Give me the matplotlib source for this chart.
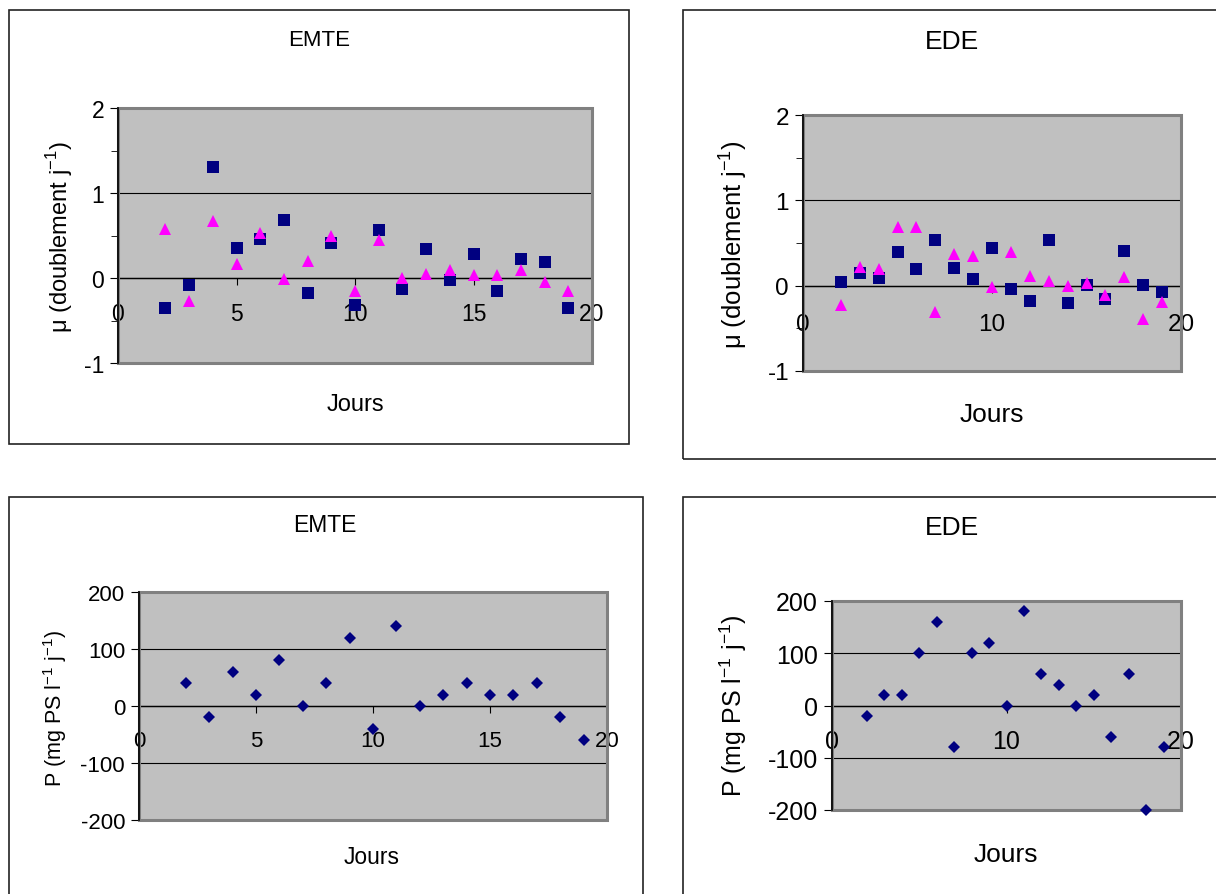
import matplotlib
matplotlib.use("Agg")
import matplotlib.pyplot as plt
from matplotlib.patches import Rectangle
from matplotlib.ticker import MultipleLocator

plt.rcParams['font.family'] = ['Liberation Sans', 'DejaVu Sans']
plt.rcParams['mathtext.fontset'] = 'custom'
plt.rcParams['mathtext.rm'] = 'Liberation Sans'
plt.rcParams['axes.unicode_minus'] = False

# --- Données ---
jours = list(range(2, 20))

mu_emte_carres = [-0.35, -0.08, 1.31, 0.35, 0.46, 0.68, -0.18, 0.41, -0.32,
                  0.57, -0.13, 0.34, -0.02, 0.28, -0.15, 0.22, 0.19, -0.35]
mu_emte_triangles = [0.58, -0.27, 0.67, 0.16, 0.53, -0.01, 0.20, 0.49, -0.15,
                     0.45, 0.00, 0.05, 0.10, 0.04, 0.04, 0.09, -0.05, -0.15]

mu_ede_carres = [0.04, 0.15, 0.09, 0.39, 0.20, 0.54, 0.21, 0.08, 0.44,
                 -0.04, -0.18, 0.53, -0.20, 0.01, -0.16, 0.41, 0.01, -0.08]
mu_ede_triangles = [-0.23, 0.22, 0.19, 0.69, 0.69, -0.31, 0.37, 0.35, -0.01,
                    0.39, 0.11, 0.06, 0.00, 0.03, -0.11, 0.10, -0.39, -0.19]

p_emte = [40, -20, 60, 20, 80, 0, 40, 120, -40, 140, 0, 20, 40, 20, 20, 40, -20, -60]
p_ede = [-20, 20, 20, 100, 160, -80, 100, 120, 0, 180, 60, 40, 0, 20, -60, 60, -200, -80]

W, H = 1216, 895
fig = plt.figure(figsize=(W / 100, H / 100), dpi=100)


def px_axes(l, t, r, b):
    return fig.add_axes([l / W, 1 - b / H, (r - l) / W, (b - t) / H])


def texte(x, y, s, size, rot=0):
    fig.text(x / W, 1 - y / H, s, fontsize=size, rotation=rot,
             ha='center', va='center')


def cadre(l, t, r, b):
    fig.patches.append(Rectangle((l / W, 1 - b / H), (r - l) / W, (b - t) / H,
                                 transform=fig.transFigure, fill=False,
                                 edgecolor='#222222', linewidth=1.2))


def style_excel(ax, ymin, ymax, ymaj, ymin_step, xstep, fs, xpad):
    ax.set_facecolor('#c0c0c0')
    ax.set_xlim(0, 20)
    ax.set_ylim(ymin, ymax)
    ax.xaxis.set_major_locator(MultipleLocator(xstep))
    ax.yaxis.set_major_locator(MultipleLocator(ymaj))
    if ymin_step:
        ax.yaxis.set_minor_locator(MultipleLocator(ymin_step))
    for s in ['top', 'right']:
        ax.spines[s].set_visible(False)
    ax.spines['bottom'].set_position(('data', 0))
    ax.spines['bottom'].set_color('black')
    ax.spines['bottom'].set_linewidth(1.0)
    ax.spines['left'].set_color('black')
    ax.spines['left'].set_linewidth(1.2)
    ax.spines['left'].set_zorder(4)
    ax.add_patch(Rectangle((0, 0), 1, 1, transform=ax.transAxes, fill=False,
                           edgecolor='#808080', linewidth=2.2, zorder=3,
                           clip_on=False))
    ax.grid(axis='y', which='major', color='black', linewidth=0.8)
    ax.set_axisbelow(True)
    ax.tick_params(axis='both', which='both', direction='out', color='black',
                   labelsize=fs, pad=4)
    ax.tick_params(axis='y', which='major', length=6)
    ax.tick_params(axis='y', which='minor', length=5)
    ax.tick_params(axis='x', length=5, pad=xpad)


# --- Panneau haut gauche : mu EMTE ---
cadre(9, 11, 629, 445)
ax1 = px_axes(118, 109, 592, 364)
style_excel(ax1, -1, 2, 1, 0.5, 5, 16.5, 12)
ax1.plot(jours, mu_emte_carres, 's', color='#000080', markersize=8, mew=0)
ax1.plot(jours, mu_emte_triangles, '^', color='#ff00ff', markersize=9, mew=0)
texte(319, 40, 'EMTE', 16)
texte(355, 405, 'Jours', 17)
texte(60, 237, r'μ (doublement j$^{-1}$)', 17, 90)

# --- Panneau haut droit : mu EDE ---
cadre(683, 11, 1240, 460)
ax2 = px_axes(803, 116, 1181, 372)
style_excel(ax2, -1, 2, 1, 0.5, 10, 17.5, 15)
ax2.plot(jours, mu_ede_carres, 's', color='#000080', markersize=8, mew=0)
ax2.plot(jours, mu_ede_triangles, '^', color='#ff00ff', markersize=9, mew=0)
texte(952, 42, 'EDE', 19)
texte(992, 415, 'Jours', 19)
texte(733, 245, r'μ (doublement j$^{-1}$)', 18.5, 90)

# --- Panneau bas gauche : P EMTE ---
cadre(9, 498, 643, 905)
ax3 = px_axes(139, 593, 607, 821)
style_excel(ax3, -200, 200, 100, None, 5, 16, 12)
ax3.plot(jours, p_emte, 'D', color='#000080', markersize=6.5, mew=0)
texte(325, 525, 'EMTE', 16.5)
texte(372, 858, 'Jours', 16.5)
texte(55, 708, r'P (mg PS l$^{-1}$ j$^{-1}$)', 15.5, 90)

# --- Panneau bas droit : P EDE ---
cadre(683, 498, 1240, 905)
ax4 = px_axes(832, 602, 1181, 811)
style_excel(ax4, -200, 200, 100, None, 10, 18, 12)
ax4.plot(jours, p_ede, 'D', color='#000080', markersize=6.5, mew=0)
texte(952, 528, 'EDE', 19)
texte(1006, 855, 'Jours', 19)
texte(733, 706, r'P (mg PS l$^{-1}$ j$^{-1}$)', 18, 90)

for ax in [ax1, ax2, ax3, ax4]:
    for l in ax.lines:
        l.set_clip_on(False)
        l.set_zorder(5)

plt.savefig("out.png", dpi=100)
